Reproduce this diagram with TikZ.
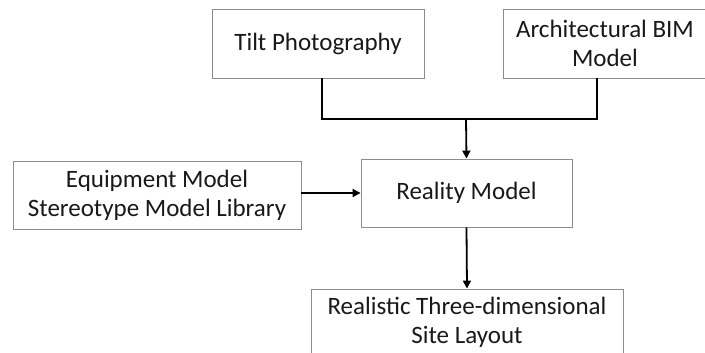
\documentclass[tikz,border=0pt]{standalone}
\usepackage{fontspec}
\setmainfont{Carlito}
\usetikzlibrary{arrows.meta,calc}
\begin{document}
\begin{tikzpicture}[x=1pt,y=-1pt,
  box/.style={draw=black!45,line width=0.9pt,fill=white,inner sep=0pt,align=center,
    font=\fontsize{25}{29}\selectfont,text=black!90},
  conn/.style={draw=black,line width=1.8pt},
  arr/.style={conn,-{Triangle[length=8pt,width=8pt]}}]
\useasboundingbox (0,0) rectangle (705,353);
\clip (0,0) rectangle (705,353);
\node[box,minimum width=212pt,minimum height=69pt] (tilt) at (318,43.5) {Tilt Photography};
\node[box,minimum width=204pt,minimum height=69pt] (bim) at (605,43.5) {Architectural BIM\\Model};
\node[box,minimum width=288pt,minimum height=68pt] (equip) at (157,195) {Equipment Model\\Stereotype Model Library};
\node[box,minimum width=211pt,minimum height=68pt] (real) at (466.5,193) {Reality Model};
\node[box,minimum width=312pt,minimum height=66pt] (site) at (467,322) {Realistic Three-dimensional\\Site Layout};
\coordinate (j) at (466,119);
\draw[conn] ([xshift=4pt]tilt.south) |- (j) -| ([xshift=-8pt]bim.south);
\draw[arr] (j) -- (real.north);
\draw[arr] (equip.east |- real.west) -- (real.west);
\draw[arr] (real.south) -- (site.north);
\end{tikzpicture}
\end{document}
